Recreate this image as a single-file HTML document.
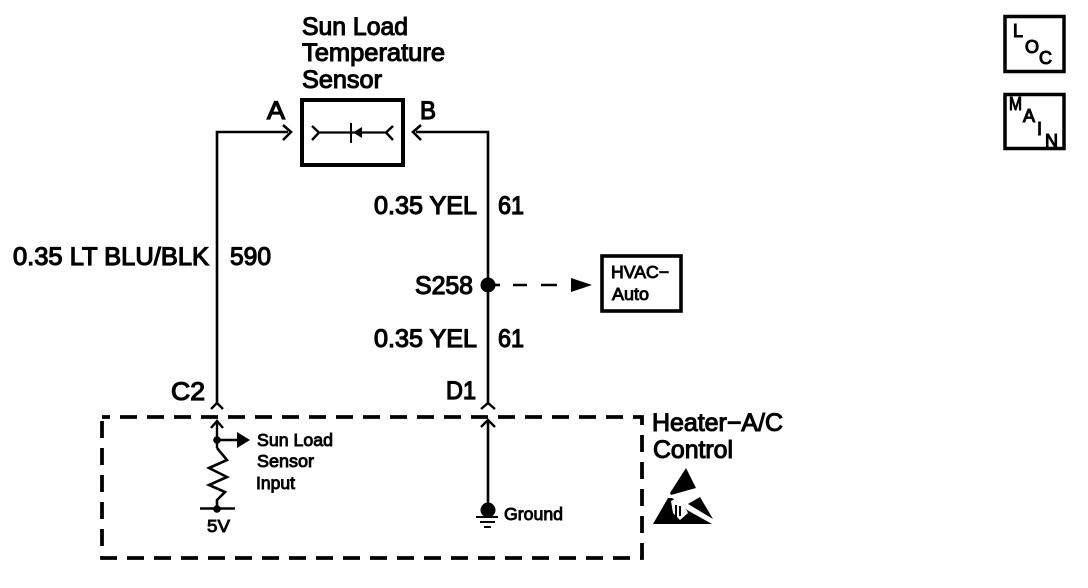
<!DOCTYPE html>
<html><head><meta charset="utf-8"><style>
html,body{margin:0;padding:0;background:#fff}
svg{display:block}
text{font-family:"Liberation Sans",sans-serif;fill:#000;stroke:#000;stroke-width:.5px}
.b{font-size:25px;stroke-width:1.100px}
.m{font-size:25px;stroke-width:1.200px}
.s{font-size:17.500px;stroke-width:.9px}
.t{font-size:18px;stroke-width:1.100px}
</style></head><body>
<svg width="1088" height="588" viewBox="0 0 1088 588" xmlns="http://www.w3.org/2000/svg">
<rect width="1088" height="588" fill="#fff"/>
<g fill="none" stroke="#000">
  <!-- sensor -->
  <rect x="302" y="100" width="101" height="65" stroke-width="4"/>
  <path d="M320 132.500H388" stroke-width="2.200"/>
  <path d="M351 123V143" stroke-width="2"/>
  <path d="M312 126L319 132.500L312 140M393 126L386 132.500L393 140" stroke-width="2.400"/>
  <!-- wires -->
  <path d="M217 405V132H288M488 405V132H416" stroke-width="2.600"/>
  <path d="M283 125L291 132L283 140M421 125L413 132L421 140" stroke-width="2.600"/>
  <!-- connector chevrons -->
  <path d="M211 409L217 403L223 409M481 409L488 403L495 409M211 428L217 421L223 428M481 427L488 420L495 427" stroke-width="2.400"/>
  <!-- dashed box -->
  <path d="M102 417H642V558H102Z" stroke-width="3.800" stroke-dasharray="17 10" stroke-dashoffset="9"/>
  <!-- inner wires -->
  <path d="M217 421V448" stroke-width="2.400"/>
  <path d="M488 421V505" stroke-width="2.600"/>
  <path d="M217 440H238" stroke-width="2.600"/>
  <path d="M217 448L227 460L209 468L227 477L209 485L225 492L217 500V509" stroke-width="2.600"/>
  <path d="M200 508.500H235" stroke-width="2.600"/>
  <!-- ground -->
  <path d="M476 517H498M480 522H495M484 527H491" stroke-width="2"/>
  <!-- HVAC -->
  <path d="M488 285H500" stroke-width="2.600"/>
  <path d="M513 285H527M541 285H557" stroke-width="2.600"/>
  <rect x="602" y="256" width="79" height="55" stroke-width="3.600"/>
  <!-- LOC/MAIN -->
  <rect x="1005" y="16.500" width="59" height="55" stroke-width="3.500"/>
  <rect x="1005" y="94.500" width="59" height="54" stroke-width="3.500"/>
</g>
<g fill="#000" stroke="none">
  <path d="M353 132.500L362 127V138Z"/>
  <circle cx="488" cy="285" r="7.500"/>
  <circle cx="217" cy="440" r="3.800"/>
  <circle cx="217" cy="509" r="3.800"/>
  <circle cx="488" cy="510" r="7.500"/>
  <path d="M237 432L250 440L237 448Z"/>
  <path d="M571 278L592 285L571 292Z"/>
  <!-- ESD symbol -->
  <path d="M686 468L696 488L671 495L670 493Z"/>
  <path d="M668 498L653 524H708L712 524L687 510L685 507L672 498Z"/>
  <path d="M700 497L713 519L688 504Z"/>
</g>
<g fill="#fff" stroke="none">
  <path d="M671 501L677 498L684 505L688 513L680 520L673 513Z"/>
</g>
<g fill="#000" stroke="none">
  <path d="M675 505H677V517H675ZM679 506H681V516H679Z"/>
</g>
<text class="b" x="302" y="35" textLength="106" lengthAdjust="spacingAndGlyphs">Sun Load</text>
<text class="b" x="302" y="61" textLength="143" lengthAdjust="spacingAndGlyphs">Temperature</text>
<text class="b" x="302" y="88" textLength="80" lengthAdjust="spacingAndGlyphs">Sensor</text>
<text class="m" x="267" y="119" textLength="18" lengthAdjust="spacingAndGlyphs">A</text>
<text class="m" x="420" y="119" textLength="16" lengthAdjust="spacingAndGlyphs">B</text>
<text class="m" x="374" y="214" textLength="103" lengthAdjust="spacingAndGlyphs">0.35 YEL</text>
<text class="m" x="498" y="214" textLength="26" lengthAdjust="spacingAndGlyphs">61</text>
<text class="m" x="13" y="265" textLength="196" lengthAdjust="spacingAndGlyphs">0.35 LT BLU/BLK</text>
<text class="m" x="230" y="265" textLength="41" lengthAdjust="spacingAndGlyphs">590</text>
<text class="m" x="415" y="294" textLength="58" lengthAdjust="spacingAndGlyphs">S258</text>
<text class="m" x="374" y="347" textLength="103" lengthAdjust="spacingAndGlyphs">0.35 YEL</text>
<text class="m" x="498" y="347" textLength="26" lengthAdjust="spacingAndGlyphs">61</text>
<text class="m" x="171" y="400" textLength="34" lengthAdjust="spacingAndGlyphs">C2</text>
<text class="m" x="446" y="399" textLength="30" lengthAdjust="spacingAndGlyphs">D1</text>
<text class="b" x="652" y="431" textLength="131" lengthAdjust="spacingAndGlyphs">Heater−A/C</text>
<text class="b" x="653" y="458" textLength="80" lengthAdjust="spacingAndGlyphs">Control</text>
<text class="s" x="257" y="446" textLength="76" lengthAdjust="spacingAndGlyphs">Sun Load</text>
<text class="s" x="257" y="467" textLength="57" lengthAdjust="spacingAndGlyphs">Sensor</text>
<text class="s" x="256" y="489" textLength="39" lengthAdjust="spacingAndGlyphs">Input</text>
<text class="s" x="207" y="532" textLength="23" lengthAdjust="spacingAndGlyphs">5V</text>
<text class="s" x="504" y="520" textLength="59" lengthAdjust="spacingAndGlyphs">Ground</text>
<text class="s" x="611" y="278" textLength="58" lengthAdjust="spacingAndGlyphs">HVAC−</text>
<text class="s" x="612" y="300" textLength="37" lengthAdjust="spacingAndGlyphs">Auto</text>
<text class="t" x="1013" y="37">L</text>
<text class="t" x="1025" y="53">O</text>
<text class="t" x="1039" y="64">C</text>
<text class="t" x="1009" y="110" textLength="13" lengthAdjust="spacingAndGlyphs">M</text>
<text class="t" x="1023" y="122">A</text>
<text class="t" x="1037" y="135">I</text>
<text class="t" x="1045" y="147">N</text>
</svg>
</body></html>
